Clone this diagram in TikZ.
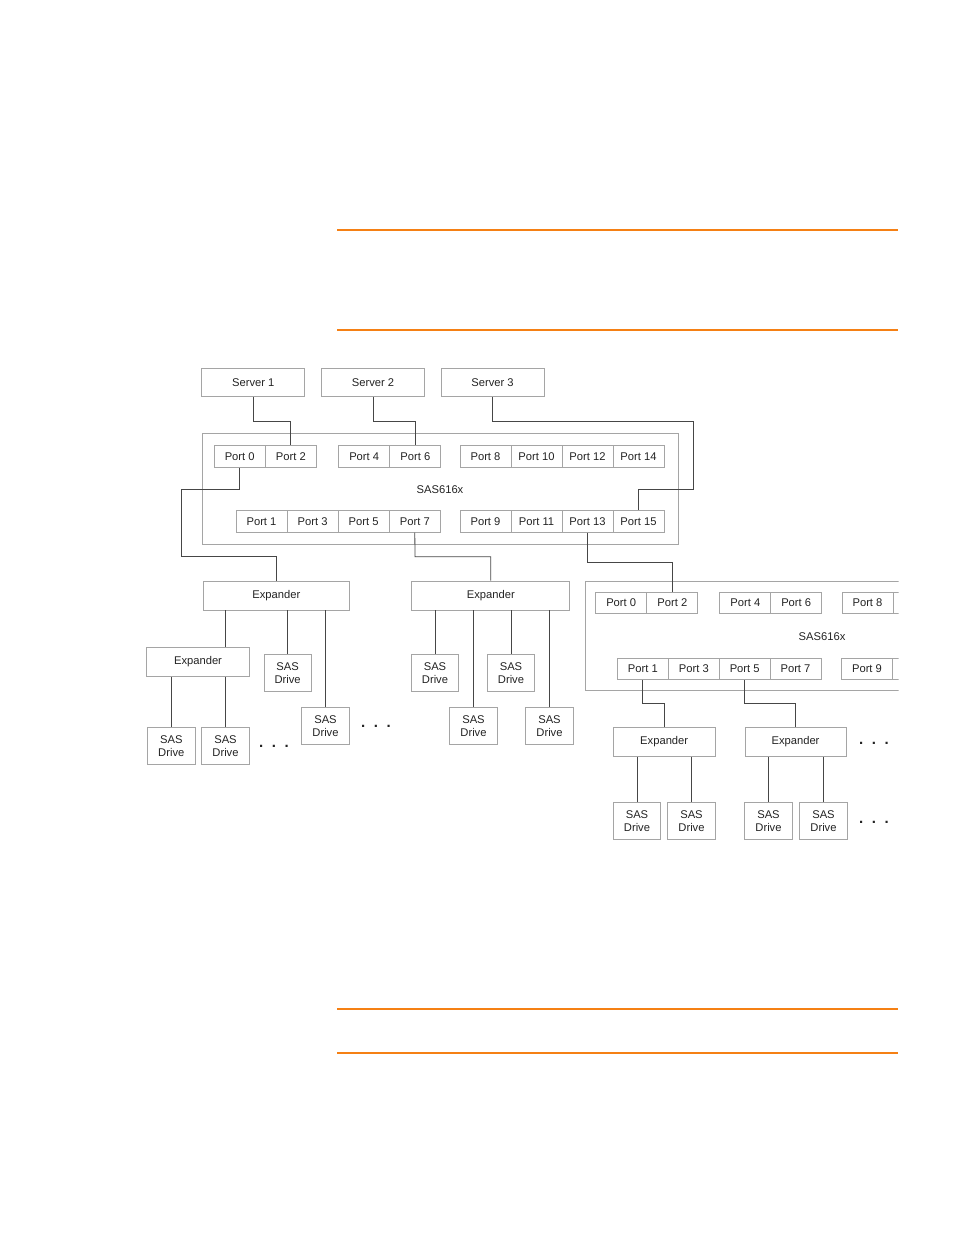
\documentclass[tikz,border=0pt]{standalone}
\usepackage{fontspec}
\setmainfont{Liberation Sans}
\definecolor{rule}{RGB}{245,128,20}
\definecolor{boxgray}{RGB}{165,165,165}
\definecolor{wire}{RGB}{70,70,70}
\definecolor{txt}{RGB}{35,35,35}
\begin{document}
\begin{tikzpicture}[x=1pt,y=-1pt,
  box/.style={draw=boxgray,line width=0.9pt,inner sep=0pt,text=txt,align=center,
    font=\fontsize{11.2}{13.5}\selectfont},
  server/.style={box,minimum width=103pt,minimum height=28pt},
  port/.style={box,minimum width=51pt,minimum height=21.5pt},
  expander/.style={box,minimum height=29pt},
  drive/.style={box,minimum width=47.3pt,minimum height=36.5pt},
  chassis/.style={box,minimum width=476pt},
  lbl/.style={inner sep=0pt,text=txt,font=\fontsize{11.2}{13.5}\selectfont},
  dots/.style={inner sep=0pt,text=txt,font=\fontsize{15}{15}\bfseries\selectfont},
  wire/.style={draw=wire,line width=0.8pt},
  rulestyle/.style={draw=rule,line width=2.4pt}]
\useasboundingbox (0,0) rectangle (954,1235);

% orange rules
\coordinate (r1a) at (337,230); \coordinate (r1b) at (898,230);
\coordinate (r2a) at (337,330); \coordinate (r2b) at (898,330);
\coordinate (r3a) at (337,1009); \coordinate (r3b) at (898,1009);
\coordinate (r4a) at (337,1053); \coordinate (r4b) at (898,1053);
\draw[rulestyle] (r1a) -- (r1b);
\draw[rulestyle] (r2a) -- (r2b);
\draw[rulestyle] (r3a) -- (r3b);
\draw[rulestyle] (r4a) -- (r4b);

% servers
\node[server] (s1) at (253.3,382.5) {Server 1};
\node[server] (s2) at (373,382.5) {Server 2};
\node[server] (s3) at (492.5,382.5) {Server 3};

% first SAS616x
\node[chassis,minimum height=111pt] (bx) at (440,489) {};
\node[lbl] (bxl) at (440,489.5) {SAS616x};
\node[port] (p0) at (239.7,456.5) {Port 0};
\node[port] (p2) at (290.8,456.5) {Port 2};
\node[port] (p4) at (364.2,456.5) {Port 4};
\node[port] (p6) at (415.3,456.5) {Port 6};
\node[port] (p8) at (485.5,456.5) {Port 8};
\node[port] (p10) at (536.5,456.5) {Port 10};
\node[port] (p12) at (587.5,456.5) {Port 12};
\node[port] (p14) at (638.5,456.5) {Port 14};
\node[port] (p1) at (261.5,521.3) {Port 1};
\node[port] (p3) at (312.6,521.3) {Port 3};
\node[port] (p5) at (363.6,521.3) {Port 5};
\node[port] (p7) at (414.8,521.3) {Port 7};
\node[port] (p9) at (485.5,521.3) {Port 9};
\node[port] (p11) at (536.5,521.3) {Port 11};
\node[port] (p13) at (587.5,521.3) {Port 13};
\node[port] (p15) at (638.5,521.3) {Port 15};

% server wiring
\coordinate (b1) at (253.3,421);
\coordinate (b2) at (373,421);
\coordinate (b3) at (693.3,421);
\coordinate (b3b) at (693.3,489);
\draw[wire] (s1.south) -- (b1) -| (p2.north);
\draw[wire] (s2.south) -- (b2) -| (p6.north);
\draw[wire] (s3.south) |- (b3) -- (b3b) -| (p15.north);

% expanders under first SAS616x
\node[expander,minimum width=146pt] (e1) at (276.3,595.5) {Expander};
\node[expander,minimum width=158pt] (e2) at (490.8,595.5) {Expander};
\node[expander,minimum width=102.6pt] (e3) at (198,662) {Expander};

\coordinate (c0a) at (181,489);
\coordinate (c0b) at (181,556);
\draw[wire] (p0.south) |- (c0a) -- (c0b) -| (e1.north);
\coordinate (c7) at (415,556.7);
\draw[wire] (p7.south) -- (c7) -| (e2.north);

% drives
\node[drive] (a1) at (171.3,746) {SAS\\Drive};
\node[drive] (a2) at (225.5,746) {SAS\\Drive};
\node[drive] (a3) at (287.6,673) {SAS\\Drive};
\node[drive] (a4) at (325.5,726) {SAS\\Drive};
\node[drive] (bd1) at (435,673) {SAS\\Drive};
\node[drive] (bd2) at (473.5,726) {SAS\\Drive};
\node[drive] (bd3) at (511,673) {SAS\\Drive};
\node[drive] (bd4) at (549.5,726) {SAS\\Drive};

\draw[wire] (e1.south -| a2) -- (e3.north -| a2);
\draw[wire] (e1.south -| a3) -- (a3.north);
\draw[wire] (e1.south -| a4) -- (a4.north);
\draw[wire] (e3.south -| a1) -- (a1.north);
\draw[wire] (e3.south -| a2) -- (a2.north);
\draw[wire] (e2.south -| bd1) -- (bd1.north);
\draw[wire] (e2.south -| bd2) -- (bd2.north);
\draw[wire] (e2.south -| bd3) -- (bd3.north);
\draw[wire] (e2.south -| bd4) -- (bd4.north);

\node[dots] (d1) at (274,746) {.\hspace{8.6pt}.\hspace{8.6pt}.};
\node[dots] (d2) at (376,726) {.\hspace{8.6pt}.\hspace{8.6pt}.};

% second SAS616x (cut at the right)
\begin{scope}
\clip (0,0) rectangle (898.6,1235);
\node[chassis,minimum height=109pt] (bxb) at (823,635.5) {};
\node[lbl] (bxbl) at (822,636.5) {SAS616x};
\node[port] (q0) at (621.2,603) {Port 0};
\node[port] (q2) at (672.3,603) {Port 2};
\node[port] (q4) at (745.4,603) {Port 4};
\node[port] (q6) at (796.2,603) {Port 6};
\node[port] (q8) at (867.5,603) {Port 8};
\node[port] (q10) at (918.5,603) {Port 10};
\node[port] (r1) at (642.8,669) {Port 1};
\node[port] (r3) at (693.8,669) {Port 3};
\node[port] (r5) at (744.7,669) {Port 5};
\node[port] (r7) at (795.5,669) {Port 7};
\node[port] (r9) at (867,669) {Port 9};
\node[port] (r11) at (918,669) {Port 11};
\end{scope}

\coordinate (c13) at (587.5,562.5);
\draw[wire] (p13.south) -- (c13) -| (q2.north);

\node[expander,minimum width=101.7pt] (ec) at (664.2,742) {Expander};
\node[expander,minimum width=101pt] (ed) at (795.5,742) {Expander};
\coordinate (cr1) at (642.8,703.3);
\coordinate (cr5) at (744.7,703.3);
\draw[wire] (r1.south) -- (cr1) -| (ec.north);
\draw[wire] (r5.south) -- (cr5) -| (ed.north);

\node[drive] (c1) at (637,821) {SAS\\Drive};
\node[drive] (c2) at (691.5,821) {SAS\\Drive};
\node[drive] (dd1) at (768.5,821) {SAS\\Drive};
\node[drive] (dd2) at (823.5,821) {SAS\\Drive};
\draw[wire] (ec.south -| c1) -- (c1.north);
\draw[wire] (ec.south -| c2) -- (c2.north);
\draw[wire] (ed.south -| dd1) -- (dd1.north);
\draw[wire] (ed.south -| dd2) -- (dd2.north);

\node[dots] (d3) at (874,743) {.\hspace{8.6pt}.\hspace{8.6pt}.};
\node[dots] (d4) at (874,822) {.\hspace{8.6pt}.\hspace{8.6pt}.};
\end{tikzpicture}
\end{document}
